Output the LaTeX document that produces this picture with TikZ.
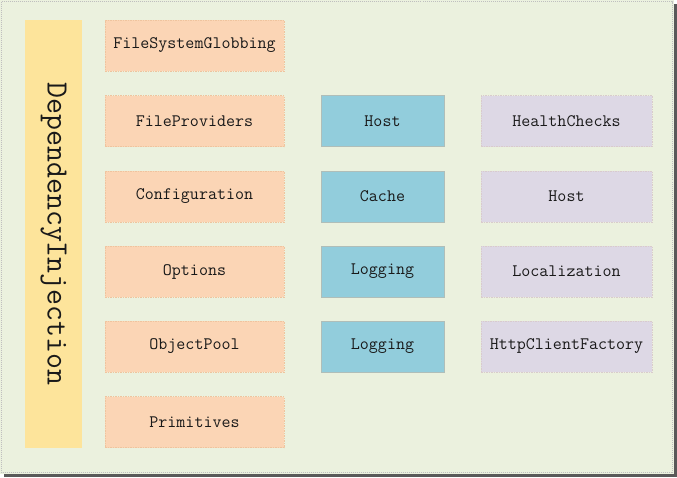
\documentclass[tikz,border=0pt]{standalone}
\usepackage{fontspec}
\definecolor{bgcol}{HTML}{EBF1DE}
\definecolor{corecol}{HTML}{FDE49B}
\definecolor{extcol}{HTML}{FBD5B5}
\definecolor{hostcol}{HTML}{92CDDC}
\definecolor{appcol}{HTML}{DDD8E5}

\begin{document}
\begin{tikzpicture}[x=1pt, y=-1pt,
  every node/.style={font=\ttfamily\fontsize{17.5}{20}\selectfont, text=black!90, inner sep=0pt},
  extbox/.style={fill=extcol, draw=extcol!80!brown, dash pattern=on 1.5pt off 1pt, line width=0.4pt, minimum width=179pt, minimum height=51pt},
  hostbox/.style={fill=hostcol, draw=hostcol!85!black!60!extcol, line width=0.4pt, minimum width=123pt, minimum height=51pt},
  appbox/.style={fill=appcol, draw=appcol!85!brown, dash pattern=on 1.5pt off 1pt, line width=0.4pt, minimum width=171pt, minimum height=51pt}]
  \useasboundingbox (0,0) rectangle (677,477);

  % Background with shadow
  \fill[black!65] (4,4) rectangle (677,477);
  \fill[bgcol] (0,0) rectangle (674,474);
  \draw[black!25, dash pattern=on 1pt off 1pt] (1.5,1.5) rectangle (672.5,472.5);

  % Core
  \node[fill=corecol, minimum width=57pt, minimum height=428pt] (core) at (53.5,234) {};
  \node[rotate=-90, font=\ttfamily\fontsize{31}{34}\selectfont] (di) at (core.center) {DependencyInjection};

  % Extensions
  \node[extbox] (glob) at (194.5,45.5) {FileSystemGlobbing};
  \node[extbox] (prov) at (194.5,121) {FileProviders};
  \node[extbox] (conf) at (194.5,196.5) {Configuration};
  \node[extbox] (opts) at (194.5,271.5) {Options};
  \node[extbox] (pool) at (194.5,346.5) {ObjectPool};
  \node[extbox] (prim) at (194.5,422) {Primitives};

  % Hosting
  \node[hostbox] (host) at (382.5,121) {Host};
  \node[hostbox] (cache) at (382.5,196.5) {Cache};
  \node[hostbox] (log) at (382.5,271.5) {Logging};
  \node[hostbox] (logb) at (382.5,346.5) {Logging};

  % Application
  \node[appbox] (health) at (566.5,121) {HealthChecks};
  \node[appbox] (apphost) at (566.5,196.5) {Host};
  \node[appbox] (local) at (566.5,271.5) {Localization};
  \node[appbox] (http) at (566.5,346.5) {HttpClientFactory};
\end{tikzpicture}
\end{document}
